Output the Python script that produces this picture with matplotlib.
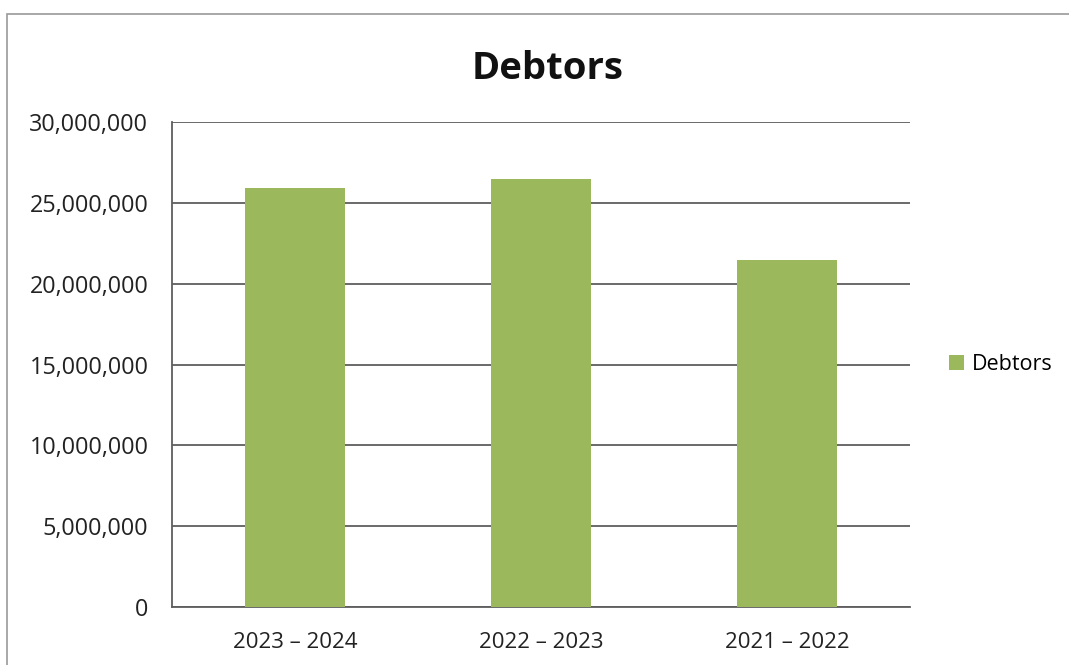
import matplotlib
matplotlib.use("Agg")
import matplotlib.pyplot as plt
from matplotlib.patches import Rectangle
from matplotlib.ticker import FuncFormatter

# data
years = ['2023 – 2024', '2022 – 2023', '2021 – 2022']
debtors = [25950000, 26450000, 21450000]
yticks = [0, 5000000, 10000000, 15000000, 20000000, 25000000, 30000000]

plt.rcParams['font.family'] = ['Open Sans', 'DejaVu Sans']

fig = plt.figure(figsize=(10.69, 6.65), dpi=100)
ax = fig.add_axes([0.1609, 0.0872, 0.6904, 0.7293])

# outer chart border (scanned Excel chart frame)
fig.patches.append(Rectangle((7 / 1069, -0.01), 1.02, 1 - 14 / 665 + 0.01,
                             transform=fig.transFigure, fill=False,
                             edgecolor='#9a9a9a', linewidth=1.2))

x = range(len(years))
ax.bar(x, debtors, width=0.41, color='#9bb85c', label='Debtors', zorder=3)

ax.set_xlim(-0.5, 2.5)
ax.set_ylim(0, 30000000)
ax.set_yticks(yticks)
ax.yaxis.set_major_formatter(FuncFormatter(lambda v, p: '{:,.0f}'.format(v)))
ax.set_xticks(list(x))
ax.set_xticklabels(years)

ax.grid(axis='y', color='#5e5e5e', linewidth=1.3, zorder=0)
ax.tick_params(axis='y', length=0, labelsize=16.8, colors='#222222', pad=17)
ax.tick_params(axis='x', length=0, labelsize=16, colors='#222222', pad=18)
for s in ['top', 'right']:
    ax.spines[s].set_visible(False)
for s in ['left', 'bottom']:
    ax.spines[s].set_color('#5e5e5e')
    ax.spines[s].set_linewidth(1.3)

fig.text(0.512, 0.896, 'Debtors', ha='center', va='center',
         fontsize=27.5, fontweight='bold', color='#111111')

ax.legend(loc='center left', bbox_to_anchor=(1.027, 0.5), frameon=False,
          fontsize=15.5, handlelength=0.7, handleheight=0.7, handletextpad=0.35)

fig.savefig('out.png', dpi=100)
